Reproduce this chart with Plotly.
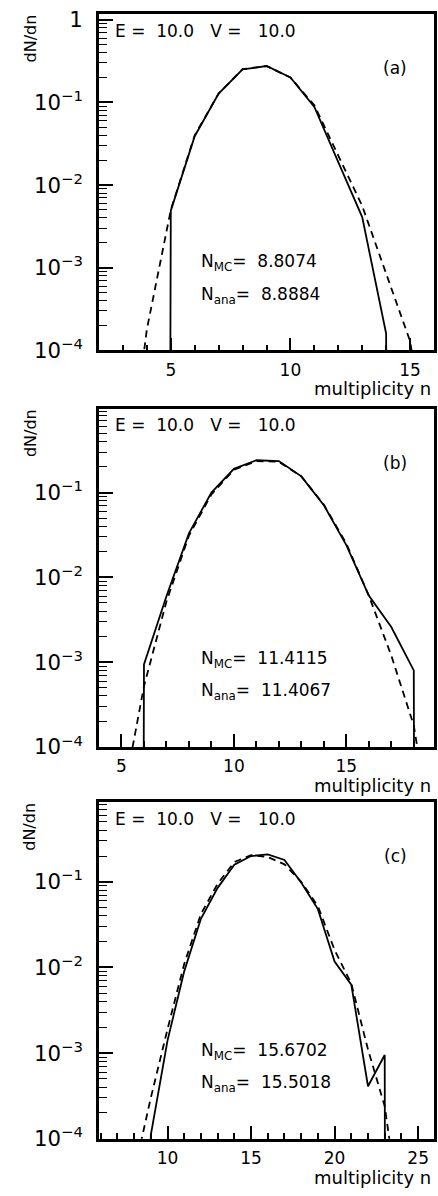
import plotly.graph_objects as go

# ---------------- data ----------------
# panel (a)
n_mc_a = list(range(4, 16))
mc_a = [0, 4.9e-3, 0.039, 0.128, 0.25, 0.275, 0.20, 0.088, 0.019, 4.1e-3, 1.6e-4, 0]
n_ana_a = list(range(3, 17))
ana_a = [1e-6, 1.8e-4, 5.0e-3, 0.040, 0.128, 0.252, 0.275, 0.20, 0.092, 0.023, 5.6e-3, 8.5e-4, 1.3e-4, 2e-6]

# panel (b)
n_mc_b = list(range(5, 20))
mc_b = [0, 9.4e-4, 6.0e-3, 0.033, 0.10, 0.19, 0.24, 0.235, 0.155, 0.071, 0.024, 6.1e-3, 2.6e-3, 8.0e-4, 0]
n_ana_b = list(range(5, 20))
ana_b = [2e-5, 5.2e-4, 5.2e-3, 0.031, 0.095, 0.185, 0.235, 0.23, 0.155, 0.072, 0.025, 6.1e-3, 1.2e-3, 1.8e-4, 4e-6]

# panel (c)
n_mc_c = list(range(8, 25))
mc_c = [0, 1.1e-4, 1.4e-3, 9e-3, 0.037, 0.085, 0.158, 0.20, 0.209, 0.18, 0.098, 0.048, 0.0117, 6.3e-3, 4.1e-4, 9.5e-4, 0]
n_ana_c = list(range(7, 25))
ana_c = [1e-6, 4e-5, 3e-4, 1.9e-3, 0.011, 0.042, 0.095, 0.17, 0.205, 0.195, 0.16, 0.1, 0.052, 0.016, 6.5e-3, 1.1e-3, 2.4e-4, 1e-5]

panel_labels = ["(a)", "(b)", "(c)"]
header_text = "E =  10.0   V =   10.0"
n_mc_values = ["8.8074", "11.4115", "15.6702"]
n_ana_values = ["8.8884", "11.4067", "15.5018"]
x_title = "multiplicity n"
y_title = "dN/dn"

# zero counts are drawn as a vertical drop off the log axis
ZERO_FLOOR = 1e-100

# ---------------- layout geometry ----------------
W, H = 438, 1196
FONT = "DejaVu Sans, Verdana, sans-serif"


def px(x):
    return x / W


def py(y):
    return 1 - y / H


def nb(s):
    return s.replace(" ", "\u00a0")


panels = [
    dict(n_mc=n_mc_a, mc=mc_a, n_ana=n_ana_a, ana=ana_a, xr=[2, 16], yr=[-4, 0.07], top=7, bottom=349),
    dict(n_mc=n_mc_b, mc=mc_b, n_ana=n_ana_b, ana=ana_b, xr=[4, 18.9], yr=[-4, -0.01], top=408, bottom=752),
    dict(n_mc=n_mc_c, mc=mc_c, n_ana=n_ana_c, ana=ana_c, xr=[5.9, 25.95], yr=[-4, -0.07], top=808, bottom=1150),
]

LEFT, RIGHT = 99, 434

fig = go.Figure()
annotations = []
layout = dict(
    width=W, height=H,
    margin=dict(l=0, r=0, t=0, b=0),
    paper_bgcolor="white", plot_bgcolor="white",
    showlegend=False,
    font=dict(family=FONT, color="black", size=17),
)

for i, p in enumerate(panels):
    k = "" if i == 0 else str(i + 1)
    xa, ya = "x" + k, "y" + k
    ana_plot = [v if v > 0 else ZERO_FLOOR for v in p["ana"]]
    mc_plot = [v if v > 0 else ZERO_FLOOR for v in p["mc"]]
    fig.add_trace(go.Scatter(x=p["n_ana"], y=ana_plot, mode="lines", xaxis=xa, yaxis=ya,
                             line=dict(color="black", width=1.8, dash="7px,5px")))
    fig.add_trace(go.Scatter(x=p["n_mc"], y=mc_plot, mode="lines", xaxis=xa, yaxis=ya,
                             line=dict(color="black", width=1.8)))

    layout["xaxis" + k] = dict(
        domain=[px(LEFT), px(RIGHT)], anchor=ya, range=p["xr"],
        tick0=0, dtick=5, ticks="inside", ticklen=13, tickwidth=1.5, tickcolor="black",
        minor=dict(ticks="inside", ticklen=6, dtick=1, tickwidth=1.5, tickcolor="black", showgrid=False),
        showline=True, linewidth=2.5, linecolor="black", mirror=True,
        showgrid=False, zeroline=False,
        tickfont=dict(family=FONT, size=17, color="black"),
        ticklabelstandoff=2,
    )
    layout["yaxis" + k] = dict(
        domain=[py(p["bottom"]), py(p["top"])], anchor=xa, type="log", range=p["yr"],
        dtick=1, exponentformat="power", ticks="inside", ticklen=14, tickwidth=1.5, tickcolor="black",
        minor=dict(ticks="inside", ticklen=8, dtick="D1", tickwidth=1, tickcolor="black", showgrid=False),
        showline=True, linewidth=2.5, linecolor="black", mirror=True,
        showgrid=False, zeroline=False,
        tickfont=dict(family=FONT, size=17, color="black"),
        ticklabelstandoff=10,
    )

    top, bottom = p["top"], p["bottom"]
    annotations += [
        dict(text=nb(header_text), x=px(113), y=py(top + 17), xref="paper", yref="paper",
             xanchor="left", yanchor="middle", showarrow=False, font=dict(size=17)),
        dict(text=panel_labels[i], x=px(395), y=py(top + 55), xref="paper", yref="paper",
             xanchor="center", yanchor="middle", showarrow=False, font=dict(size=17)),
        dict(text=nb("N<sub>MC</sub>=  " + n_mc_values[i]), x=px(199), y=py(bottom - 89),
             xref="paper", yref="paper", xanchor="left", yanchor="middle", showarrow=False, font=dict(size=17)),
        dict(text=nb("N<sub>ana</sub>=  " + n_ana_values[i]), x=px(199), y=py(bottom - 56),
             xref="paper", yref="paper", xanchor="left", yanchor="middle", showarrow=False, font=dict(size=17)),
        dict(text=y_title, x=px(30), y=py(top + 25), xref="paper", yref="paper", textangle=-90,
             xanchor="center", yanchor="middle", showarrow=False, font=dict(size=16)),
        dict(text=x_title, x=px(433), y=py(bottom + 39), xref="paper", yref="paper",
             xanchor="right", yanchor="middle", showarrow=False, font=dict(size=18)),
    ]

layout["annotations"] = annotations
fig.update_layout(**layout)
fig.write_html("out.html", config={"displayModeBar": False},
               post_script="document.body.style.margin='0';document.body.style.overflow='hidden';")
